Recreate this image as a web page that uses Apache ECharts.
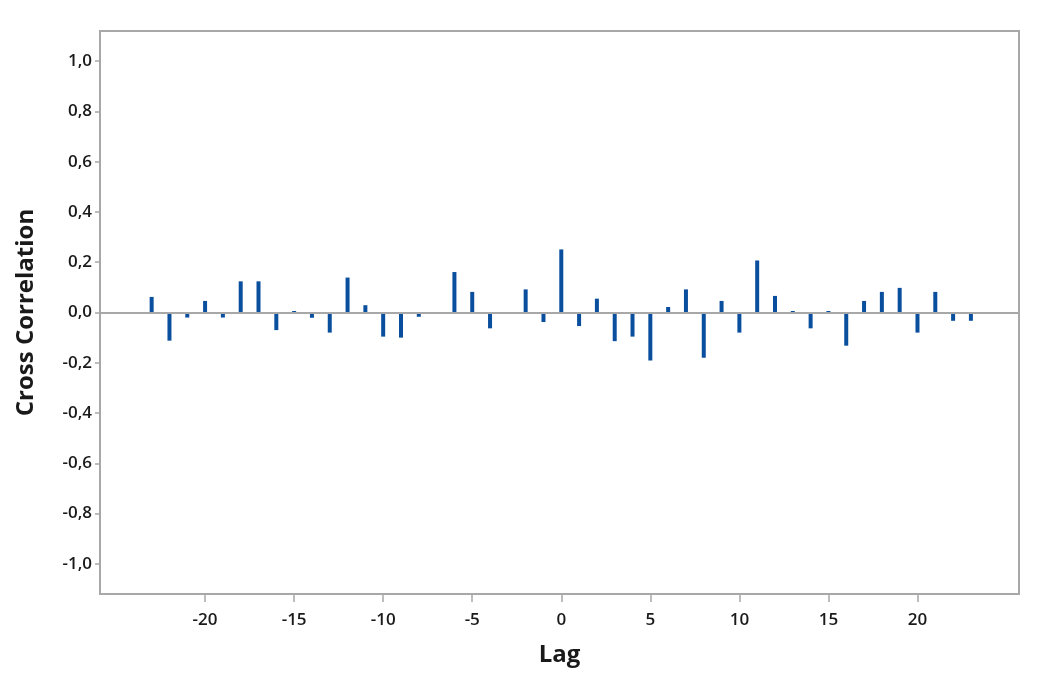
<!DOCTYPE html>
<html>
<head>
<meta charset="utf-8">
<script src="https://cdn.jsdelivr.net/npm/echarts@6/dist/echarts.min.js"></script>
<style>html,body{margin:0;padding:0;background:#fff}#c{width:1037px;height:674px}</style>
</head>
<body>
<div id="c"></div>
<script>
const lags = [-23,-22,-21,-20,-19,-18,-17,-16,-15,-14,-13,-12,-11,-10,-9,-8,-7,-6,-5,-4,-3,-2,-1,0,1,2,3,4,5,6,7,8,9,10,11,12,13,14,15,16,17,18,19,20,21,22,23];
const crossCorr = [0.062,-0.112,-0.02,0.046,-0.02,0.124,0.124,-0.07,0.006,-0.021,-0.08,0.139,0.029,-0.096,-0.10,-0.017,0.0,0.161,0.082,-0.063,0.0,0.092,-0.038,0.251,-0.054,0.055,-0.114,-0.096,-0.191,0.022,0.092,-0.18,0.046,-0.08,0.207,0.066,0.006,-0.063,0.006,-0.132,0.046,0.082,0.098,-0.08,0.082,-0.033,-0.033];
const yTicks = [-1.0,-0.8,-0.6,-0.4,-0.2,0.0,0.2,0.4,0.6,0.8,1.0];
const xTicks = [-20,-15,-10,-5,0,5,10,15,20];

const chart = echarts.init(document.getElementById('c'), null, {renderer:'canvas'});
const fontFam = '"Open Sans", "Noto Sans", sans-serif';
chart.setOption({
  animation:false,
  backgroundColor:'#ffffff',
  grid:{left:100,right:18,top:31,bottom:80,show:true,borderColor:'#a8a8a8',borderWidth:2,backgroundColor:'#ffffff'},
  xAxis:{
    type:'value', min:-25.9, max:25.7,
    name:'Lag', nameLocation:'middle', nameGap:49,
    nameTextStyle:{fontFamily:fontFam,fontSize:24,fontWeight:'bold',color:'#1a1a1a'},
    axisLine:{show:true,onZero:false,lineStyle:{color:'#a8a8a8',width:2}},
    axisTick:{show:true,length:8,lineStyle:{color:'#a8a8a8',width:1.5},customValues:xTicks},
    axisLabel:{customValues:xTicks,margin:18,fontFamily:fontFam,fontSize:17,fontWeight:600,color:'#1a1a1a',formatter:v=>String(v)},
    splitLine:{show:false}
  },
  yAxis:{
    type:'value', min:-1.12, max:1.12,
    name:'Cross Correlation', nameLocation:'middle', nameGap:62, nameRotate:90,
    nameTextStyle:{fontFamily:fontFam,fontSize:24,fontWeight:'bold',color:'#1a1a1a'},
    axisLine:{show:true,onZero:false,lineStyle:{color:'#a8a8a8',width:2}},
    axisTick:{show:true,length:5,lineStyle:{color:'#a8a8a8',width:1.5},customValues:yTicks},
    axisLabel:{customValues:yTicks,margin:8,fontFamily:fontFam,fontSize:17,fontWeight:600,color:'#1a1a1a',formatter:v=>v.toFixed(1).replace('.',',')},
    splitLine:{show:false}
  },
  series:[{
    type:'bar',
    data:lags.map((l,i)=>[l,crossCorr[i]]),
    barWidth:4,
    itemStyle:{color:'#0a4f9e'},
    markLine:{silent:true,symbol:'none',label:{show:false},lineStyle:{color:'#a8a8a8',width:2,type:'solid'},data:[{yAxis:0}]}
  }]
});
</script>
</body>
</html>
